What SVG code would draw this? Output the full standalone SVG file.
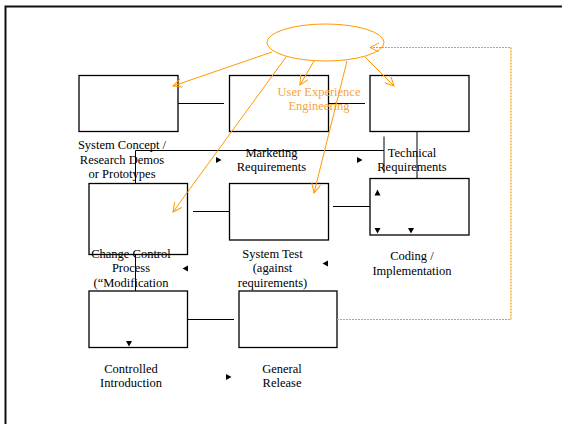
<svg xmlns="http://www.w3.org/2000/svg" width="562" height="424" viewBox="0 0 562 424">
<style>
.box{fill:none;stroke:#000;stroke-width:1.3}
.ln{fill:none;stroke:#000;stroke-width:1}
.or{fill:none;stroke:#FF9900;stroke-width:1}
.dot{fill:none;stroke:#FF9900;stroke-width:1.2;stroke-dasharray:2,1}
.tri{fill:#000}
.t{font-family:"Liberation Serif","Times New Roman",serif;font-size:12.5px;fill:#000;text-anchor:middle}
.ot{font-family:"Liberation Serif","Times New Roman",serif;font-size:12.5px;fill:#F7A541;text-anchor:middle}
</style>
<defs>
<marker id="oa" markerUnits="userSpaceOnUse" markerWidth="12" markerHeight="12" refX="9" refY="4.5" orient="auto">
<path d="M0,0 L9,4.5 L0,9" fill="none" stroke="#FF9900" stroke-width="1"/>
</marker>
</defs>
<rect width="562" height="424" fill="#fff"/>
<path d="M5.5,430 V6.5 H570" fill="none" stroke="#111" stroke-width="2"/>
<g id="ux"><ellipse cx="325.5" cy="42.5" rx="58.5" ry="18.5" class="or"/></g>
<g id="n1"><rect x="79" y="75.5" width="99" height="56" class="box"/></g>
<g id="n2"><rect x="229.5" y="75.5" width="99" height="56" class="box"/></g>
<g id="n3"><rect x="370" y="75.5" width="99" height="56" class="box"/></g>
<g id="n4"><rect x="89" y="183.5" width="98.5" height="71" class="box"/></g>
<g id="n5"><rect x="229.5" y="183.5" width="99" height="56.5" class="box"/></g>
<g id="n6"><rect x="370" y="178.5" width="99" height="56.5" class="box"/></g>
<g id="n7"><rect x="89" y="291" width="98.5" height="56.5" class="box"/></g>
<g id="n8"><rect x="239" y="291" width="98" height="56.5" class="box"/></g>
<g id="connectors">
<path class="ln" d="M178,103.5 H224"/>
<path class="ln" d="M328.5,103.5 H365"/>
<path class="ln" d="M135.5,183.5 V150.5 H384 V136.5 M384,150.5 V173"/>
<path class="ln" d="M417,131.5 V178.5"/>
<path class="ln" d="M193,211.5 H229.5"/>
<path class="ln" d="M333,206.5 H370"/>
<path class="ln" d="M135.5,254.5 V291"/>
<path class="ln" d="M187.5,319.5 H234"/>
<line class="or" x1="272" y1="52" x2="173" y2="86" marker-end="url(#oa)"/>
<line class="or" x1="314" y1="61" x2="300" y2="85" marker-end="url(#oa)"/>
<line class="or" x1="365" y1="57" x2="394" y2="86" marker-end="url(#oa)"/>
<line class="or" x1="286" y1="57" x2="173" y2="212" marker-end="url(#oa)"/>
<line class="or" x1="347" y1="61" x2="314" y2="193" marker-end="url(#oa)"/>
<path class="dot" d="M337,319.5 H511 V47.5 H370" marker-end="url(#oa)"/>
<polygon class="tri" points="216,157 221.5,160 216,163"/>
<polygon class="tri" points="357,157 362.5,160 357,163"/>
<polygon class="tri" points="374.5,195.5 377.5,189.5 380.5,195.5"/>
<polygon class="tri" points="374.5,228 380.5,228 377.5,233.5"/>
<polygon class="tri" points="408,228 414,228 411,233.5"/>
<polygon class="tri" points="188,265.5 182.5,268.5 188,271.5"/>
<polygon class="tri" points="328,260.5 322.5,263.5 328,266.5"/>
<polygon class="tri" points="126,341 132,341 129,346.5"/>
<polygon class="tri" points="226,374 231.5,377 226,380"/>
</g>
<g id="labels">
<text class="t" x="122" y="148.5">System Concept /</text>
<text class="t" x="122" y="163.5">Research Demos</text>
<text class="t" x="122" y="178">or Prototypes</text>
<text class="t" x="271.5" y="156.5">Marketing</text>
<text class="t" x="271.5" y="171">Requirements</text>
<text class="t" x="412" y="156.5">Technical</text>
<text class="t" x="412" y="171">Requirements</text>
<text class="t" x="131" y="257.5">Change Control</text>
<text class="t" x="131" y="272">Process</text>
<text class="t" x="131" y="286.5">(“Modification</text>
<text class="t" x="272.5" y="257.5">System Test</text>
<text class="t" x="272.5" y="272">(against</text>
<text class="t" x="272.5" y="286.5">requirements)</text>
<text class="t" x="412" y="260">Coding /</text>
<text class="t" x="412" y="274.5">Implementation</text>
<text class="t" x="131" y="372.5">Controlled</text>
<text class="t" x="131" y="387">Introduction</text>
<text class="t" x="282" y="372.5">General</text>
<text class="t" x="282" y="387">Release</text>
<text class="ot" x="319" y="95.5">User Experience</text>
<text class="ot" x="319" y="110">Engineering</text>
</g>
</svg>
